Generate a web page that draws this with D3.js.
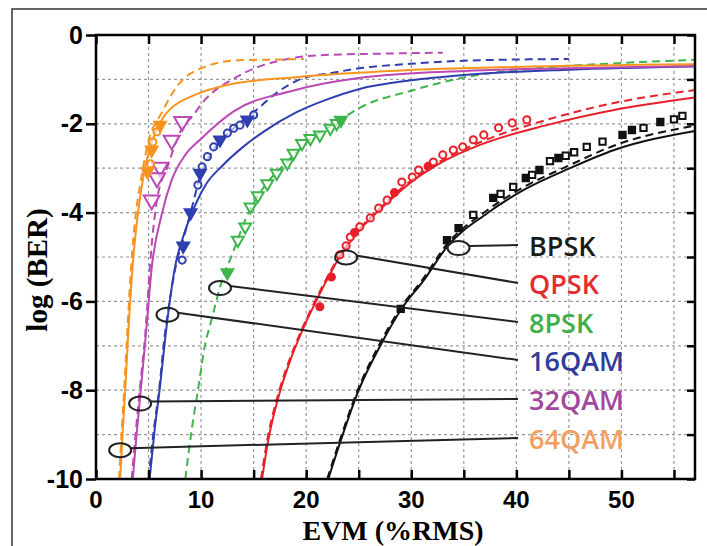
<!DOCTYPE html>
<html>
<head>
<meta charset="utf-8">
<script src="https://cdn.jsdelivr.net/npm/d3@7"></script>
<style>
  body { margin: 0; background: #fff; }
  svg { display: block; }
</style>
</head>
<body>
<svg width="707" height="546"></svg>
<script>
// ---- data: [EVM %RMS, log(BER)] ----
const xTicks = [0, 10, 20, 30, 40, 50]
const yTicks = [0, -2, -4, -6, -8, -10]

const bpskSolid = [[22.1,-10],[23.2,-9.2],[25.0,-8.0],[27.0,-7.02],[29.1,-6.16],[31.2,-5.52],[33.4,-4.77],[37.2,-4.02],[40.7,-3.49],[45.1,-3.0],[49.3,-2.59],[57,-2.16]]
const bpskDash = [[22.0,-10],[23.1,-9.2],[24.9,-8.0],[26.9,-7.0],[29.0,-6.14],[31.1,-5.5],[33.3,-4.74],[37.1,-3.97],[40.6,-3.44],[45,-2.94],[49.2,-2.5],[57,-2.04]]
const bpskFilled = [[29.0,-6.17],[33.4,-4.62],[34.5,-4.35],[37.8,-3.67],[40.9,-3.22],[42.2,-3.04],[44.0,-2.77],[50.1,-2.25],[51.0,-2.14],[53.7,-1.96]]
const bpskOpen = [[35.9,-4.05],[38.5,-3.58],[39.7,-3.42],[41.5,-3.15],[43.2,-2.84],[44.7,-2.72],[45.5,-2.64],[46.7,-2.52],[48.2,-2.4],[52.1,-2.09],[55.0,-1.9],[55.8,-1.82]]

const qpskSolid = [[15.8,-10],[16.4,-9.12],[17.5,-8.04],[18.5,-7.32],[19.7,-6.62],[21.1,-5.92],[23.2,-5.0],[25.1,-4.39],[27.3,-3.87],[29.9,-3.33],[32.8,-2.88],[36.6,-2.47],[42.9,-2.03],[49.3,-1.69],[57,-1.41]]
const qpskDash = [[15.7,-10],[16.3,-9.12],[17.4,-8.04],[18.4,-7.32],[19.6,-6.62],[21.0,-5.92],[23.1,-5.0],[25.0,-4.39],[27.2,-3.86],[29.8,-3.31],[32.7,-2.85],[36.6,-2.41],[42.9,-1.91],[49.3,-1.53],[57,-1.24]]
const qpskOpen = [[23.2,-4.95],[23.8,-4.75],[24.2,-4.55],[25.1,-4.32],[26.1,-4.12],[26.9,-3.9],[27.7,-3.72],[29.1,-3.31],[30.1,-3.2],[30.7,-3.04],[32.1,-2.86],[33.0,-2.7],[34.0,-2.59],[34.9,-2.52],[35.9,-2.36],[36.9,-2.25],[38.3,-2.09],[39.6,-1.98],[41.0,-1.91]]
const qpskFilled = [[21.3,-6.12],[22.4,-5.45],[24.6,-4.45],[28.4,-3.55],[31.6,-2.96]]

const psk8Dash = [[8.5,-10],[9.1,-8.9],[9.7,-8.0],[10.4,-6.95],[10.9,-6.5],[12.0,-5.52],[13.0,-4.92],[14.2,-4.17],[15.2,-3.7],[16.4,-3.3],[18.2,-2.85],[20.4,-2.35],[23.2,-1.92],[25.1,-1.64],[29.9,-1.26],[35.6,-0.93],[42,-0.75],[50,-0.63],[57,-0.56]]
const psk8Open = [[13.5,-4.62],[14.2,-4.32],[14.7,-3.87],[15.4,-3.62],[16.3,-3.35],[17.2,-3.11],[18.2,-2.88],[18.8,-2.66],[19.6,-2.44],[20.4,-2.33],[21.3,-2.25],[22.3,-2.1],[22.9,-1.99]]
const psk8Filled = [[12.5,-5.35],[23.3,-1.92]]

const qam16Solid = [[5.1,-10],[5.6,-8.85],[6.1,-7.9],[6.6,-6.8],[7.5,-5.25],[8.5,-4.4],[9.5,-3.8],[10.5,-3.35],[12,-2.95],[14,-2.52],[16,-2.17],[19,-1.75],[22,-1.45],[25,-1.22],[30,-1.02],[35,-0.9],[45,-0.78],[57,-0.71]]
const qam16Dash = [[5.0,-10],[5.5,-8.9],[6.0,-8.0],[6.5,-6.85],[7.0,-6.0],[7.6,-5.2],[8.3,-4.6],[9.0,-4.0],[9.9,-3.2],[11.2,-2.58],[13.1,-2.1],[15,-1.74],[17.5,-1.25],[19.4,-1.0],[22.3,-0.86],[25.4,-0.74],[29.9,-0.65],[35,-0.58],[45,-0.54]]
const qam16Open = [[15.0,-1.8],[13.7,-2.03],[13.1,-2.1],[12.5,-2.21],[11.2,-2.52],[10.6,-2.74],[10.1,-2.97],[9.7,-3.38],[8.2,-5.07]]
const qam16Tri = [[14.4,-1.91],[11.8,-2.36],[9.9,-3.11],[9.0,-4.0],[8.3,-4.75]]

const qam32Solid = [[3.5,-10],[3.9,-8.9],[4.3,-7.9],[4.8,-6.6],[5.3,-5.25],[6.3,-4.0],[7.2,-3.27],[8.5,-2.7],[9.9,-2.36],[13.1,-1.72],[18.8,-1.25],[25,-0.97],[35,-0.81],[45,-0.75],[57,-0.7]]
const qam32Dash = [[3.4,-10],[3.8,-8.9],[4.2,-7.9],[4.7,-6.7],[5.2,-5.0],[5.8,-3.72],[6.8,-2.97],[8.2,-2.1],[9.1,-1.85],[10.4,-1.45],[13.2,-0.97],[15.1,-0.75],[17.8,-0.56],[21,-0.46],[27,-0.42],[33,-0.4]]
const qam32Open = [[8.2,-1.95],[7.2,-2.37],[6.1,-2.98],[5.8,-3.22],[5.3,-3.72]]

const qam64Solid = [[2.3,-10],[2.55,-8.9],[2.8,-7.9],[3.05,-6.8],[3.5,-5.15],[4.0,-4.0],[4.5,-3.2],[5.0,-2.65],[5.8,-2.12],[6.5,-1.82],[7.2,-1.64],[9.4,-1.35],[12.6,-1.12],[19,-0.95],[29,-0.8],[40,-0.72],[57,-0.66]]
const qam64Dash = [[2.2,-10],[2.45,-8.9],[2.7,-7.9],[2.95,-6.8],[3.35,-5.2],[3.8,-4.0],[4.2,-3.38],[4.9,-2.48],[6.3,-1.73],[7.8,-1.13],[10.1,-0.74],[13.5,-0.57],[17.7,-0.55],[19.8,-0.54]]
const qam64Filled = [[6.1,-2.03],[5.3,-2.59],[4.9,-3.08]]
const qam64Open = [[5.8,-2.18],[5.4,-2.41],[5.2,-2.9]]

const labels = ['BPSK', 'QPSK', '8PSK', '16QAM', '32QAM', '64QAM']
// leader: ring on the curve [EVM, logBER] -> label
const ringAt = [[34.5,-4.8],[23.8,-5.01],[11.8,-5.7],[6.8,-6.3],[4.2,-8.3],[2.3,-9.35]]

// ---- layout ----
const svg = d3.select('svg')
const colors = ['#111', '#e8202a', '#3db54a', '#2f3fb0', '#bb48b5', '#f7941d']
const textColors = ['#1a1a1a', '#e52a30', '#3fae4a', '#2f3c98', '#a2469e', '#f2a062']

const x = d3.scaleLinear().domain([0, 57]).range([96, 695])
const y = d3.scaleLinear().domain([-10, 0]).range([479, 35])

// outer picture frame
svg.append('path').attr('d', 'M12,560 L12,9 L707,9')
  .attr('fill', 'none').attr('stroke', '#333').attr('stroke-width', 1.5)

// grid
const grid = svg.append('g').attr('stroke', '#999').attr('stroke-width', 1.2)
  .attr('stroke-dasharray', '3,3')
grid.selectAll('.gx').data(d3.range(5, 57, 5)).enter().append('line')
  .attr('x1', d => x(d)).attr('x2', d => x(d)).attr('y1', y(0)).attr('y2', y(-10))
grid.selectAll('.gy').data(d3.range(-9, 0, 1)).enter().append('line')
  .attr('y1', d => y(d)).attr('y2', d => y(d)).attr('x1', x(0)).attr('x2', x(57))

const plot = svg.append('g')
svg.append('clipPath').attr('id', 'clip').append('rect')
  .attr('x', x(0)).attr('y', y(0)).attr('width', x(57) - x(0)).attr('height', y(-10) - y(0))
plot.attr('clip-path', 'url(#clip)')

const line = d3.line().x(d => x(d[0])).y(d => y(d[1])).curve(d3.curveMonotoneX)

function curve(data, color, dashed){
  plot.append('path').datum(data)
    .attr('d', line)
    .attr('fill', 'none')
    .attr('stroke', color)
    .attr('stroke-width', 2)
    .attr('stroke-dasharray', dashed ? '8,5' : null)
}

curve(bpskSolid, colors[0], false); curve(bpskDash, colors[0], true)
curve(qpskSolid, colors[1], false); curve(qpskDash, colors[1], true)
curve(psk8Dash, colors[2], true)
curve(qam16Solid, colors[3], false); curve(qam16Dash, colors[3], true)
curve(qam32Solid, colors[4], false); curve(qam32Dash, colors[4], true)
curve(qam64Solid, colors[5], false); curve(qam64Dash, colors[5], true)

const sym = {
  square: d3.symbol().type(d3.symbolSquare).size(40),
  circle: d3.symbol().type(d3.symbolCircle).size(40),
  tri: d3.symbol().type(d3.symbolTriangle).size(60),
  bigTri: d3.symbol().type(d3.symbolTriangle).size(110)
}

function markers(data, shape, color, filled, flip){
  plot.selectAll(null).data(data).enter().append('path')
    .attr('d', sym[shape])
    .attr('transform', d => 'translate(' + x(d[0]) + ',' + y(d[1]) + ')' + (flip ? ' rotate(180)' : ''))
    .attr('fill', filled ? color : '#fff')
    .attr('fill-opacity', filled ? 1 : 0.6)
    .attr('stroke', color)
    .attr('stroke-width', 2)
}

markers(bpskOpen, 'square', colors[0], false)
markers(bpskFilled, 'square', colors[0], true)
markers(qpskOpen, 'circle', colors[1], false)
markers(qpskFilled, 'circle', colors[1], true)
markers(psk8Open, 'tri', colors[2], false, true)
markers(psk8Filled, 'tri', colors[2], true, true)
markers(qam16Open, 'circle', colors[3], false)
markers(qam16Tri, 'tri', colors[3], true, true)
markers(qam32Open, 'bigTri', colors[4], false, true)
markers(qam64Open, 'circle', colors[5], false)
markers(qam64Filled, 'tri', colors[5], true, true)

// axes frame and ticks
svg.append('rect').attr('x', x(0)).attr('y', y(0))
  .attr('width', x(57) - x(0)).attr('height', y(-10) - y(0))
  .attr('fill', 'none').attr('stroke', '#000').attr('stroke-width', 2.5)

const xAxisB = d3.axisBottom(x).tickValues(d3.range(0, 57, 5)).tickSize(-9).tickFormat('')
const xAxisT = d3.axisTop(x).tickValues(d3.range(0, 57, 5)).tickSize(-9).tickFormat('')
const yAxisR = d3.axisRight(y).tickValues(d3.range(-10, 1, 1)).tickSize(-8).tickFormat('')
svg.append('g').attr('transform', 'translate(0,' + y(-10) + ')').call(xAxisB)
svg.append('g').attr('transform', 'translate(0,' + y(0) + ')').call(xAxisT)
svg.append('g').attr('transform', 'translate(' + x(57) + ',0)').call(yAxisR)
const yAxisL = d3.axisLeft(y).tickValues(yTicks).tickSize(10).tickPadding(3).tickFormat(d => d)
svg.append('g').attr('transform', 'translate(' + x(0) + ',0)').call(yAxisL)
  .call(g => g.selectAll('text').attr('font-family', 'Liberation Sans, Arial, sans-serif')
    .attr('font-size', 25).attr('font-weight', 'bold').attr('fill', '#000'))
svg.selectAll('.domain').remove()
svg.selectAll('.tick line').attr('stroke', '#000').attr('stroke-width', 2.5)

svg.append('g').selectAll('text').data(xTicks).enter().append('text')
  .attr('x', d => x(d)).attr('y', 508)
  .attr('text-anchor', 'middle')
  .attr('font-family', 'Liberation Sans, Arial, sans-serif')
  .attr('font-size', 24).attr('font-weight', 'bold')
  .text(d => d)

svg.append('text').attr('x', 393).attr('y', 540).attr('text-anchor', 'middle')
  .attr('font-family', 'Liberation Serif, Times New Roman, serif')
  .attr('font-size', 28).attr('font-weight', 'bold').text('EVM (%RMS)')
svg.append('text').attr('transform', 'translate(47,270) rotate(-90)').attr('text-anchor', 'middle')
  .attr('font-family', 'Liberation Serif, Times New Roman, serif')
  .attr('font-size', 29).attr('font-weight', 'bold').text('log (BER)')

// leaders and labels
const labelY = [247, 285, 324, 362, 401, 440]
const lead = svg.append('g')
labels.forEach(function(name, i){
  const cx = x(ringAt[i][0]), cy = y(ringAt[i][1])
  lead.append('ellipse').attr('cx', cx).attr('cy', cy).attr('rx', 11).attr('ry', 7)
    .attr('fill', 'none').attr('stroke', '#222').attr('stroke-width', 2)
  lead.append('line').attr('x1', cx + 10).attr('y1', cy - 2)
    .attr('x2', 518).attr('y2', labelY[i] - 2)
    .attr('stroke', '#222').attr('stroke-width', 2)
  lead.append('text').attr('x', 529).attr('y', labelY[i]).attr('dy', '0.35em')
    .attr('font-family', 'Open Sans, sans-serif').attr('font-weight', 600)
    .attr('font-size', 27).attr('fill', textColors[i]).text(name)
})
</script>
</body>
</html>
